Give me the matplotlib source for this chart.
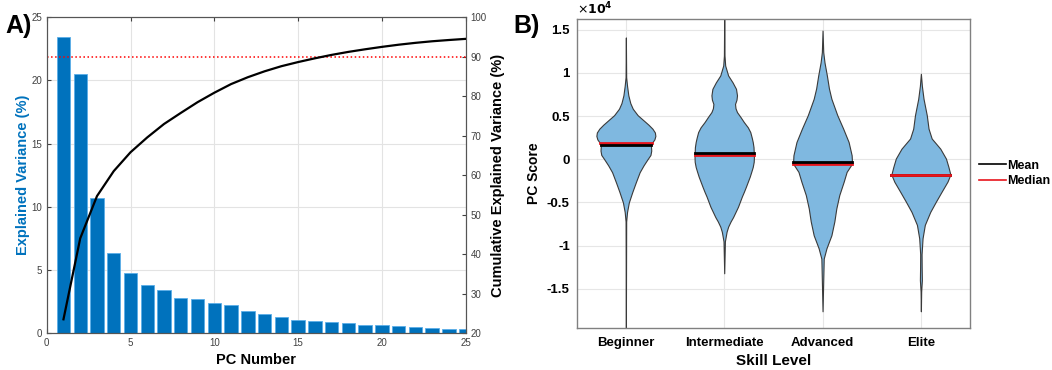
import numpy as np
import matplotlib
matplotlib.use('Agg')
import matplotlib.pyplot as plt

plt.rcParams['font.family'] = ['Liberation Sans', 'DejaVu Sans']
plt.rcParams['axes.unicode_minus'] = False

# ---- panel A data: explained variance per PC (%)
pc_num = np.arange(1, 26)
expl_var = [23.47, 20.52, 10.71, 6.33, 4.77, 3.77, 3.40, 2.80, 2.72, 2.40,
            2.19, 1.74, 1.50, 1.29, 1.05, 0.95, 0.87, 0.76, 0.66, 0.61,
            0.55, 0.47, 0.40, 0.32, 0.29]
cum_var = np.cumsum(expl_var)
threshold = 90

# ---- panel B data: violin outlines (PC score in 1e4 units, half widths)
groups = ['Beginner', 'Intermediate', 'Advanced', 'Elite']
beg_y = [1.41, 0.95, 0.85, 0.74, 0.65, 0.585, 0.51, 0.45, 0.40, 0.354, 0.31, 0.27, 0.23,
         0.19, 0.15, 0.10, 0.05, 0.0, -0.07, -0.15, -0.27, -0.38, -0.50, -0.61, -0.72, -1.95]
beg_w = [0, 0.003, 0.012, 0.025, 0.045, 0.07, 0.12, 0.18, 0.23, 0.27, 0.295, 0.30, 0.29,
         0.265, 0.255, 0.258, 0.25, 0.22, 0.18, 0.14, 0.10, 0.065, 0.03, 0.012, 0.003, 0]
int_y = [1.70, 1.2, 1.085, 0.97, 0.89, 0.815, 0.74, 0.69, 0.64, 0.59, 0.546, 0.49, 0.43,
         0.37, 0.315, 0.25, 0.2, 0.14, 0.085, 0.02, -0.03, -0.09, -0.146, -0.2, -0.26,
         -0.32, -0.377, -0.43, -0.49, -0.55, -0.61, -0.67, -0.72, -0.78, -0.84, -0.95, -1.32]
int_w = [0, 0.003, 0.01, 0.04, 0.085, 0.12, 0.13, 0.125, 0.11, 0.115, 0.13, 0.165, 0.20,
         0.24, 0.265, 0.28, 0.29, 0.298, 0.30, 0.302, 0.30, 0.29, 0.275, 0.26, 0.24,
         0.22, 0.2, 0.18, 0.16, 0.14, 0.115, 0.09, 0.065, 0.04, 0.024, 0.007, 0]
adv_y = [1.49, 1.24, 1.12, 0.97, 0.82, 0.70, 0.51, 0.354, 0.2, 0.046, -0.05, -0.146,
         -0.26, -0.415, -0.57, -0.72, -0.88, -1.03, -1.15, -1.76]
adv_w = [0, 0.007, 0.02, 0.044, 0.065, 0.09, 0.15, 0.21, 0.265, 0.296, 0.30, 0.245,
         0.215, 0.17, 0.14, 0.12, 0.09, 0.04, 0.012, 0]
eli_y = [0.99, 0.85, 0.70, 0.51, 0.354, 0.24, 0.123, 0.008, -0.088, -0.177, -0.26,
         -0.377, -0.49, -0.61, -0.76, -0.915, -1.1, -1.25, -1.4, -1.53, -1.76]
eli_w = [0, 0.01, 0.027, 0.06, 0.078, 0.11, 0.197, 0.255, 0.28, 0.30, 0.27,
         0.21, 0.153, 0.095, 0.04, 0.017, 0.007, 0.008, 0.01, 0.003, 0]
outlines = [(beg_y, beg_w), (int_y, int_w), (adv_y, adv_w), (eli_y, eli_w)]
means = [0.16, 0.073, -0.035, -0.177]
medians = [0.19, 0.046, -0.054, -0.177]

fig = plt.figure(figsize=(10.52, 3.70), dpi=100)

# ================= panel A
ax1 = fig.add_axes([0.0444, 0.1, 0.3983, 0.8532])
ax1.bar(pc_num, expl_var, width=0.8, color='#0072BD', edgecolor='#5aaee8', linewidth=0.6, zorder=2)
ax1.set_xlim(0, 25)
ax1.set_ylim(0, 25)
ax1.set_xticks([0, 5, 10, 15, 20, 25])
ax1.set_yticks([0, 5, 10, 15, 20, 25])
ax1.grid(True, color='#e3e3e3', linewidth=0.8, zorder=0)
ax1.set_axisbelow(True)
ax1.tick_params(direction='in', labelsize=7, colors='#404040', length=3, top=True)
ax1.set_xlabel('PC Number', fontsize=10.5, fontweight='bold', labelpad=4)
ax1.set_ylabel('Explained Variance (%)', fontsize=10.5, fontweight='bold', color='#0072BD', labelpad=1)
for s in ax1.spines.values():
    s.set_color('#555555')
    s.set_linewidth(0.8)

ax2 = ax1.twinx()
ax2.plot(pc_num, cum_var, color='black', linewidth=1.6, zorder=3)
ax2.axhline(threshold, color='red', linestyle=':', linewidth=1.1)
ax2.set_ylim(20, 100)
ax2.set_yticks(np.arange(20, 101, 10))
ax2.tick_params(direction='in', labelsize=7, colors='#404040', length=3)
ax2.set_ylabel('Cumulative Explained Variance (%)', fontsize=10.5, fontweight='bold', labelpad=3)
for s in ax2.spines.values():
    s.set_color('#555555')
    s.set_linewidth(0.8)

fig.text(0.005, 0.93, 'A)', fontsize=18, fontweight='bold', va='center', ha='left')

# ================= panel B
ax3 = fig.add_axes([0.5482, 0.1143, 0.3739, 0.8335])
for i, (yy, ww) in enumerate(outlines):
    xc = i + 1
    yy = np.array(yy)
    ww = np.array(ww)
    ax3.fill_betweenx(yy, xc - ww, xc + ww, facecolor='#7fb8e0', edgecolor='#3a3a3a',
                      linewidth=0.8, zorder=2)
    ys = yy[::-1]
    wm = np.interp(means[i], ys, ww[::-1])
    wd = np.interp(medians[i], ys, ww[::-1])
    ax3.plot([xc - wd, xc + wd], [medians[i], medians[i]], color='#e8141c', linewidth=2, zorder=4)
    ax3.plot([xc - wm, xc + wm], [means[i], means[i]], color='black', linewidth=2,
             zorder=3 if i == 3 else 5)

ax3.plot([], [], color='black', linewidth=1.2, label='Mean')
ax3.plot([], [], color='#e8141c', linewidth=1.2, label='Median')
ax3.set_xlim(0.5, 4.5)
ax3.set_ylim(-1.95, 1.62)
ax3.set_xticks([1, 2, 3, 4])
ax3.set_xticklabels(groups)
yt = [-1.5, -1, -0.5, 0, 0.5, 1, 1.5]
ax3.set_yticks(yt)
ax3.set_yticklabels(['-1.5', '-1', '-0.5', '0', '0.5', '1', '1.5'])
ax3.grid(True, color='#e6e6e6', linewidth=0.8, zorder=0)
ax3.set_axisbelow(True)
ax3.tick_params(length=0, labelsize=9.5, pad=5)
ax3.tick_params(axis='x', pad=7)
for lab in ax3.get_xticklabels() + ax3.get_yticklabels():
    lab.set_fontweight('bold')
ax3.set_xlabel('Skill Level', fontsize=11, fontweight='bold', labelpad=3)
ax3.set_ylabel('PC Score', fontsize=10, fontweight='bold', labelpad=4)
for s in ax3.spines.values():
    s.set_color('#808080')
    s.set_linewidth(1.0)
ax3.text(0.0, 1.005, r'$\times\mathbf{10^4}$', transform=ax3.transAxes, fontsize=9,
         ha='left', va='bottom')
ax3.legend(loc='center left', bbox_to_anchor=(1.0, 0.5), frameon=False,
           prop={'weight': 'bold', 'size': 9}, handlelength=2.2, handletextpad=0.1,
           labelspacing=0.3, borderaxespad=0.3)

fig.text(0.488, 0.93, 'B)', fontsize=18, fontweight='bold', va='center', ha='left')

fig.savefig('out.png', dpi=100)
